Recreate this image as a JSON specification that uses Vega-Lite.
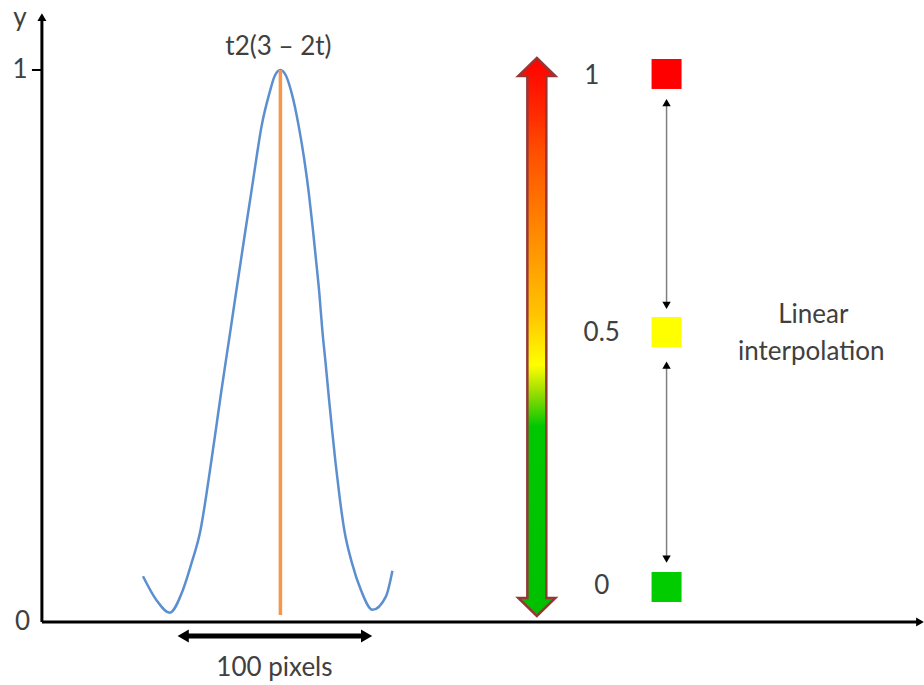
{
  "$schema": "https://vega.github.io/schema/vega-lite/v6.json",
  "width": 924,
  "height": 685,
  "padding": 0,
  "autosize": {"type": "fit", "contains": "padding"},
  "background": "white",
  "config": {"view": {"stroke": null}},
  "datasets": {
    "curve": [
      {"x": 101.3, "y": 0.083}, {"x": 114.7, "y": 0.040}, {"x": 128, "y": 0.017},
      {"x": 141.3, "y": 0.058}, {"x": 150, "y": 0.107}, {"x": 159, "y": 0.167},
      {"x": 164.5, "y": 0.227}, {"x": 169.5, "y": 0.288}, {"x": 174.3, "y": 0.348},
      {"x": 179, "y": 0.408}, {"x": 184, "y": 0.469}, {"x": 189, "y": 0.529},
      {"x": 194.5, "y": 0.596}, {"x": 199.5, "y": 0.656}, {"x": 204.5, "y": 0.716},
      {"x": 209.7, "y": 0.777}, {"x": 214.7, "y": 0.837}, {"x": 220, "y": 0.897},
      {"x": 228, "y": 0.958}, {"x": 233.5, "y": 0.99}, {"x": 239, "y": 1.0},
      {"x": 244.5, "y": 0.99}, {"x": 250.3, "y": 0.958}, {"x": 257.5, "y": 0.897},
      {"x": 263, "y": 0.837}, {"x": 267.5, "y": 0.777}, {"x": 271.3, "y": 0.716},
      {"x": 274.7, "y": 0.656}, {"x": 278, "y": 0.596}, {"x": 281, "y": 0.529},
      {"x": 284.3, "y": 0.469}, {"x": 287.5, "y": 0.408}, {"x": 290.8, "y": 0.348},
      {"x": 294.3, "y": 0.288}, {"x": 298.3, "y": 0.227}, {"x": 303, "y": 0.167},
      {"x": 310.7, "y": 0.107}, {"x": 319.7, "y": 0.058}, {"x": 331.3, "y": 0.022},
      {"x": 344.7, "y": 0.046}, {"x": 351.3, "y": 0.093}
    ],
    "axes": [
      {"x": 0, "x2": 0, "y": 0, "y2": 1.09},
      {"x": 0, "x2": 880, "y": 0, "y2": 0}
    ],
    "tick": [{"x": -10, "x2": 0, "y": 1, "y2": 1}],
    "axisUp": [{"x": 0, "y": 1.0957}],
    "axisRight": [{"x": 880, "y": 0}],
    "peak": [{"x": 239, "x2": 239, "y": 0.0127, "y2": 1.0}],
    "span": [{"x": 141.6, "x2": 325.4, "y": -0.0254, "y2": -0.0254}],
    "spanLeft": [{"x": 141.6, "y": -0.0254}],
    "spanRight": [{"x": 325.4, "y": -0.0254}],
    "bar": [{"x": 496, "y": 0.5163}],
    "squares": [
      {"x": 626, "y": 0.9928, "level": "1"},
      {"x": 626, "y": 0.5254, "level": "0.5"},
      {"x": 626, "y": 0.0634, "level": "0"}
    ],
    "thin": [
      {"x": 626, "x2": 626, "y": 0.942, "y2": 0.573},
      {"x": 626, "x2": 626, "y": 0.465, "y2": 0.114}
    ],
    "thinUp": [{"x": 626, "y": 0.9411}, {"x": 626, "y": 0.4652}],
    "thinDown": [{"x": 626, "y": 0.5734}, {"x": 626, "y": 0.1138}],
    "labels": [
      {"x": -22, "y": 1.0942, "text": "y"},
      {"x": -22, "y": 1.0, "text": "1"},
      {"x": -19.3, "y": 0.0, "text": "0"},
      {"x": 237, "y": 1.0422, "text": "t2(3 – 2t)"},
      {"x": 233, "y": -0.0833, "text": "100 pixels"},
      {"x": 551, "y": 0.989, "text": "1"},
      {"x": 561, "y": 0.5236, "text": "0.5"},
      {"x": 561, "y": 0.0652, "text": "0"},
      {"x": 773, "y": 0.5562, "text": "Linear"},
      {"x": 771, "y": 0.4891, "text": "interpolation"}
    ]
  },
  "encoding": {
    "x": {"field": "x", "type": "quantitative", "scale": {"domain": [-42, 882], "nice": false, "zero": false}, "axis": null},
    "y": {"field": "y", "type": "quantitative", "scale": {"domain": [-0.1141, 1.1268], "nice": false, "zero": false}, "axis": null}
  },
  "layer": [
    {
      "data": {"name": "curve"},
      "mark": {"type": "line", "color": "#5b8fcf", "strokeWidth": 2.5, "interpolate": "monotone"},
      "encoding": {}
    },
    {
      "data": {"name": "peak"},
      "mark": {"type": "rule", "color": "#f79646", "strokeWidth": 3.5},
      "encoding": {"x2": {"field": "x2"}, "y2": {"field": "y2"}}
    },
    {
      "data": {"name": "axes"},
      "mark": {"type": "rule", "color": "#000000", "strokeWidth": 3},
      "encoding": {"x2": {"field": "x2"}, "y2": {"field": "y2"}}
    },
    {
      "data": {"name": "tick"},
      "mark": {"type": "rule", "color": "#000000", "strokeWidth": 2},
      "encoding": {"x2": {"field": "x2"}, "y2": {"field": "y2"}}
    },
    {
      "data": {"name": "axisUp"},
      "mark": {"type": "point", "shape": "triangle-up", "filled": true, "color": "#000000", "opacity": 1, "size": 81}
    },
    {
      "data": {"name": "axisRight"},
      "mark": {"type": "point", "shape": "triangle-right", "filled": true, "color": "#000000", "opacity": 1, "size": 81}
    },
    {
      "data": {"name": "span"},
      "mark": {"type": "rule", "color": "#000000", "strokeWidth": 5},
      "encoding": {"x2": {"field": "x2"}, "y2": {"field": "y2"}}
    },
    {
      "data": {"name": "spanLeft"},
      "mark": {"type": "point", "shape": "triangle-left", "filled": true, "color": "#000000", "opacity": 1, "size": 169}
    },
    {
      "data": {"name": "spanRight"},
      "mark": {"type": "point", "shape": "triangle-right", "filled": true, "color": "#000000", "opacity": 1, "size": 169}
    },
    {
      "data": {"name": "bar"},
      "mark": {
        "type": "point",
        "shape": "M0,-1L0.0663,-0.9355L0.034,-0.9355L0.034,0.9355L0.0663,0.9355L0,1L-0.0663,0.9355L-0.034,0.9355L-0.034,-0.9355L-0.0663,-0.9355Z",
        "size": 311364,
        "opacity": 1,
        "filled": true,
        "fill": {
          "gradient": "linear",
          "x1": 0, "y1": 0, "x2": 0, "y2": 1,
          "stops": [
            {"offset": 0, "color": "#ff0000"},
            {"offset": 0.1, "color": "#ff2a00"},
            {"offset": 0.17, "color": "#ff5000"},
            {"offset": 0.33, "color": "#ff9000"},
            {"offset": 0.46, "color": "#ffc400"},
            {"offset": 0.55, "color": "#ffff00"},
            {"offset": 0.6, "color": "#99dd00"},
            {"offset": 0.66, "color": "#00c800"},
            {"offset": 1, "color": "#00c000"}
          ]
        },
        "stroke": "#953735",
        "strokeWidth": 2.5
      }
    },
    {
      "data": {"name": "squares"},
      "mark": {"type": "point", "shape": "square", "filled": true, "opacity": 1, "size": 900},
      "encoding": {
        "color": {"field": "level", "type": "nominal", "scale": {"domain": ["0", "0.5", "1"], "range": ["#00cc00", "#ffff00", "#ff0000"]}, "legend": null}
      }
    },
    {
      "data": {"name": "thin"},
      "mark": {"type": "rule", "color": "#7f7f7f", "strokeWidth": 1.5},
      "encoding": {"x2": {"field": "x2"}, "y2": {"field": "y2"}}
    },
    {
      "data": {"name": "thinUp"},
      "mark": {"type": "point", "shape": "triangle-up", "filled": true, "color": "#000000", "opacity": 1, "size": 70}
    },
    {
      "data": {"name": "thinDown"},
      "mark": {"type": "point", "shape": "triangle-down", "filled": true, "color": "#000000", "opacity": 1, "size": 70}
    },
    {
      "data": {"name": "labels"},
      "mark": {"type": "text", "font": "Lato", "fontSize": 26, "color": "#404040", "align": "center", "baseline": "middle"},
      "encoding": {"text": {"field": "text"}}
    }
  ]
}
